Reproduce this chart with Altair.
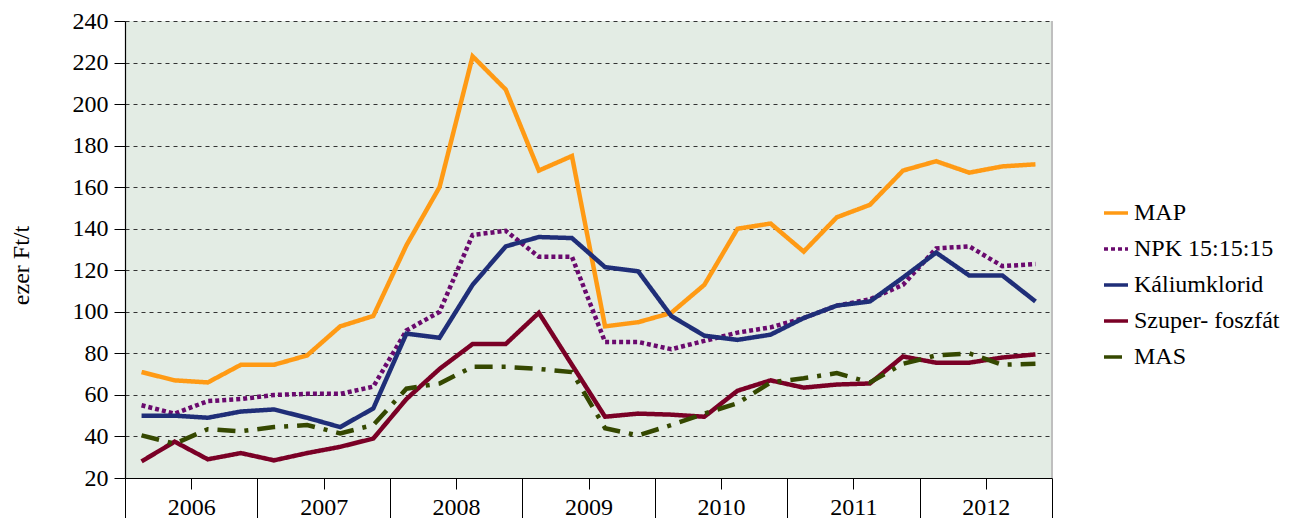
import altair as alt
import pandas as pd

series_names = ["MAP", "NPK 15:15:15", "Káliumklorid", "Szuper- foszfát", "MAS"]
colors = ["#FF9A14", "#6A0A6E", "#1F2E78", "#7A0026", "#354800"]
dashes = [[1, 0], [4, 3], [1, 0], [1, 0], [18, 9, 4, 9]]

years = [2006, 2007, 2008, 2009, 2010, 2011, 2012]

map_vals = [71, 67, 66, 74.5, 74.5, 79, 93, 98, 132, 160,
            223, 207, 168, 175, 93, 95, 99.5, 113, 140, 142.5,
            129, 145.5, 151.5, 168, 172.5, 167, 170, 171]
npk_vals = [55, 51, 57, 58, 60, 60.5, 60.5, 64, 91, 100,
            137, 139, 126.5, 126.5, 85.5, 85.5, 82, 86, 90, 92.5,
            97, 103, 106, 113, 130.5, 131.5, 122, 123]
kcl_vals = [50, 50, 49, 52, 53, 49, 44.5, 53.5, 89.5, 87.5,
            113, 131.5, 136, 135.5, 121.5, 119.5, 98, 88.5, 86.5, 89,
            97, 103, 105, 116.5, 128.5, 117.5, 117.5, 105]
szuper_vals = [28, 37.5, 29, 32, 28.5, 32, 35, 39, 58, 72.5,
               84.5, 84.5, 99.5, 74.5, 49.5, 51, 50.5, 49.5, 62, 67,
               63.5, 65, 65.5, 78.5, 75.5, 75.5, 78, 79.5]
mas_vals = [40.5, 36.5, 43.5, 42.5, 44.5, 45.5, 41.5, 45.5, 63, 65.5,
            73.5, 73.5, 72.5, 71, 44, 40.5, 45.5, 51, 56, 66,
            68, 70.5, 66, 75, 79, 80, 74.5, 75]

all_vals = [map_vals, npk_vals, kcl_vals, szuper_vals, mas_vals]

rows = []
for name, vals in zip(series_names, all_vals):
    for i, v in enumerate(vals):
        rows.append({"series": name, "q": i + 0.5, "value": v})
df = pd.DataFrame(rows)

FONT = "Liberation Serif, Times New Roman, serif"
W, H = 927, 457

x_scale = alt.Scale(domain=[0, 28], nice=False, zero=False)
y_scale = alt.Scale(domain=[20, 240], nice=False, zero=False)

label_expr = "datum.value % 4 == 2 ? '' + (2006 + (datum.value - 2) / 4) : ''"

legend_kw = dict(title=None, orient="none", legendX=977, legendY=178,
                 symbolType="stroke", symbolSize=576, symbolStrokeWidth=3.5,
                 labelFont=FONT, labelFontSize=24, labelColor="#000000",
                 labelOffset=4, rowPadding=10, padding=0)

lines = alt.Chart(df).mark_line(strokeWidth=4.5, clip=False).encode(
    x=alt.X("q:Q", scale=x_scale,
            axis=alt.Axis(values=list(range(0, 29)), title=None,
                          labelExpr=label_expr, grid=False,
                          tickSize={"condition": {"test": "datum.value % 4 == 0", "value": 40}, "value": 11},
                          tickColor="#000000", tickWidth=1,
                          domainColor="#000000", domainWidth=1.2,
                          labelFont=FONT, labelFontSize=24, labelColor="#000000",
                          labelPadding=6, labelBaseline="top", labelAngle=0)),
    y=alt.Y("value:Q", scale=y_scale,
            axis=alt.Axis(values=list(range(20, 241, 20)), title="ezer Ft/t",
                          grid=True, gridColor="#333333", gridDash=[4, 4], gridWidth=1,
                          tickSize=11, tickColor="#000000",
                          domainColor="#000000", domainWidth=1.2,
                          labelFont=FONT, labelFontSize=24, labelColor="#000000",
                          labelPadding=6,
                          titleFont=FONT, titleFontSize=24, titleFontWeight="normal",
                          titleColor="#000000", titleAngle=270,
                          titleX=-104, titleY=244, titleAlign="center",
                          titleBaseline="middle")),
    color=alt.Color("series:N",
                    scale=alt.Scale(domain=series_names, range=colors),
                    legend=alt.Legend(**legend_kw)),
    strokeDash=alt.StrokeDash("series:N",
                              scale=alt.Scale(domain=series_names, range=dashes),
                              legend=alt.Legend(**legend_kw)),
    detail="series:N",
)

right_edge = alt.Chart(pd.DataFrame({"q": [28]})).mark_rule(
    color="#BFBFBF", strokeWidth=2
).encode(x=alt.X("q:Q", scale=x_scale), y=alt.value(0), y2=alt.value(H))

chart = alt.layer(right_edge, lines).properties(
    width=W, height=H,
    autosize=alt.AutoSizeParams(type="none"),
    padding={"left": 117, "top": 13, "right": 1302 - 16 - 117 - W, "bottom": 526 - 16 - 13 - H},
).configure_view(
    fill="#E3ECE4", stroke=None
)

chart.save("out.html", embed_options={"renderer": "svg", "actions": False})
